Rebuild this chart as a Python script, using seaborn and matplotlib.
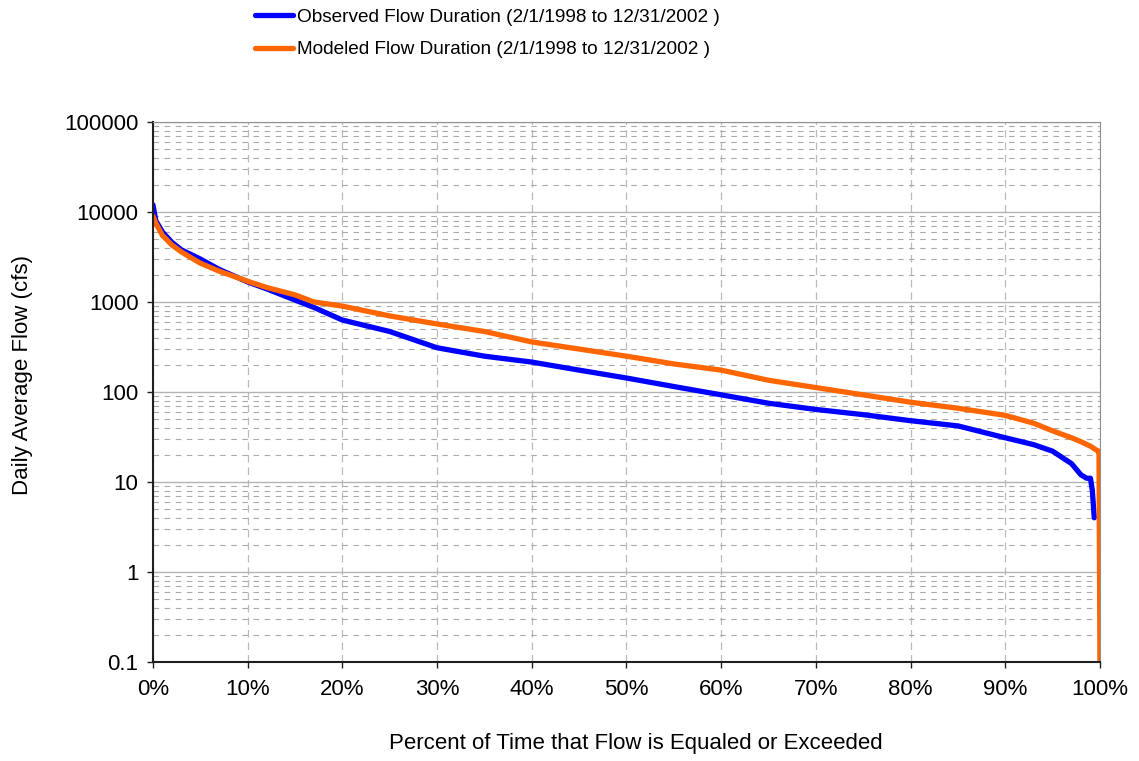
"""
Curva de duración de caudales: observado vs modelado.
"""

import matplotlib
matplotlib.use("Agg")
import matplotlib.pyplot as plt
import matplotlib.ticker as mticker
import pandas as pd
import seaborn as sns

# datos (porcentaje de tiempo, caudal en cfs)
obs_pct = [0, 0.3, 1, 2, 3, 5, 7, 10, 12, 15, 17, 20, 25, 30, 35, 40, 45, 50,
           55, 60, 65, 70, 75, 80, 85, 90, 93, 95, 97, 98, 98.6, 99, 99.2, 99.4]
obs_flow = [12000, 8000, 6000, 4600, 3800, 3000, 2300, 1670, 1400, 1050, 870, 630,
            470, 310, 250, 215, 175, 143, 115, 93, 75, 64, 56, 48, 42, 31, 26, 22,
            16, 12, 11, 11, 8, 4]

mod_pct = [0, 0.3, 1, 2, 3, 5, 7, 10, 12, 15, 17, 20, 25, 30, 35, 40, 45, 50,
           55, 60, 65, 70, 75, 80, 85, 90, 93, 95, 97, 98, 99, 99.8, 99.9, 100]
mod_flow = [9000, 7500, 5500, 4300, 3600, 2700, 2200, 1700, 1450, 1200, 1000, 900,
            700, 570, 470, 360, 300, 250, 205, 175, 135, 112, 93, 77, 66, 55, 45,
            37, 31, 28, 25, 22, 22, 0.1]

obs_label = "Observed Flow Duration (2/1/1998 to 12/31/2002 )"
mod_label = "Modeled Flow Duration (2/1/1998 to 12/31/2002 )"

sns.set_style("white")
plt.rcParams["font.family"] = ["Liberation Sans", "DejaVu Sans"]
plt.rcParams["text.color"] = "black"
plt.rcParams["axes.labelcolor"] = "black"
plt.rcParams["xtick.color"] = "black"
plt.rcParams["ytick.color"] = "black"

df_obs = pd.DataFrame({"pct": obs_pct, "flow": obs_flow})
df_mod = pd.DataFrame({"pct": mod_pct, "flow": mod_flow})

fig = plt.figure(figsize=(11.39, 7.61), dpi=100)
ax = fig.add_axes([0.1343, 0.1301, 0.8314, 0.7096])

sns.lineplot(data=df_obs, x="pct", y="flow", ax=ax, color="#0000FF",
             linewidth=3.8, label=obs_label)
sns.lineplot(data=df_mod, x="pct", y="flow", ax=ax, color="#FF6600",
             linewidth=3.8, label=mod_label)

ax.set_yscale("log")
ax.set_ylim(0.1, 100000)
ax.set_xlim(0, 100)

ax.yaxis.set_major_locator(mticker.LogLocator(base=10))
ax.yaxis.set_major_formatter(mticker.FuncFormatter(lambda v, p: f"{v:g}"))
ax.yaxis.set_minor_locator(mticker.LogLocator(base=10, subs=range(2, 10)))
ax.yaxis.set_minor_formatter(mticker.NullFormatter())
ax.xaxis.set_major_locator(mticker.MultipleLocator(10))
ax.xaxis.set_major_formatter(mticker.FuncFormatter(lambda v, p: f"{v:.0f}%"))

ax.grid(True, axis="y", which="major", color="#b4b4b4", linestyle="-", linewidth=1)
ax.grid(True, axis="y", which="minor", color="#aaaaaa", linestyle=(0, (5, 5)), linewidth=0.8)
ax.grid(True, axis="x", which="major", color="#bbbbbb", linestyle=(0, (6, 4)), linewidth=0.9)
ax.set_axisbelow(True)

for side in ["top", "right"]:
    ax.spines[side].set_color("#909090")
for side in ["left", "bottom"]:
    ax.spines[side].set_color("#202020")
    ax.spines[side].set_linewidth(1.5)

ax.tick_params(axis="both", which="major", labelsize=16, length=4.5, width=1,
               color="#202020", direction="out", left=True, bottom=True)
ax.tick_params(axis="y", which="major", pad=6)
ax.tick_params(axis="x", which="major", pad=8)
ax.tick_params(axis="y", which="minor", length=0)

ax.set_xlabel("Percent of Time that Flow is Equaled or Exceeded", fontsize=16)
ax.set_ylabel("Daily Average Flow (cfs)", fontsize=16)
ax.xaxis.set_label_coords(0.51, -0.132)
ax.yaxis.set_label_coords(-0.127, 0.532)

ax.legend_.remove()
handles, labels = ax.get_legend_handles_labels()
fig.legend(handles, labels, loc="upper left", bbox_to_anchor=(0.2239, 0.989),
           frameon=False, fontsize=13.7, handlelength=2.0, handletextpad=0.2,
           labelspacing=0.8, borderpad=0, borderaxespad=0)

plt.savefig("out.png", dpi=100)
